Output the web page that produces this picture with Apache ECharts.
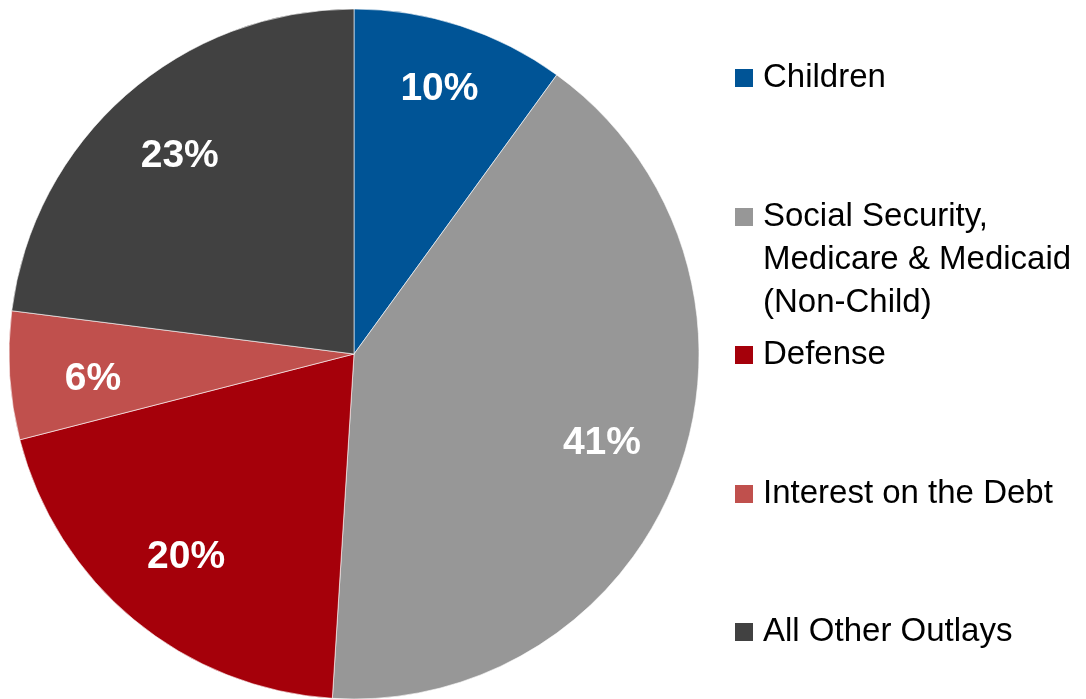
<!DOCTYPE html>
<html>
<head>
<meta charset="utf-8">
<script src="https://cdn.jsdelivr.net/npm/echarts@6/dist/echarts.min.js"></script>
<style>
html,body{margin:0;padding:0;background:#fff;}
#chart{width:1086px;height:699px;}
</style>
</head>
<body>
<div id="chart"></div>
<script>
const categories = ['Children', 'Social Security,\nMedicare & Medicaid\n(Non-Child)', 'Defense', 'Interest on the Debt', 'All Other Outlays'];
const values = [10, 41, 20, 6, 23];
const colors = ['#005496', '#979797', '#A5000A', '#C0504D', '#414141'];
const legendCenters = [78, 217, 355, 494, 632];

const chart = echarts.init(document.getElementById('chart'));
const FONT = '"Liberation Sans", Arial, sans-serif';
const LH = 43;

const data = categories.map((c, i) => ({ name: c, value: values[i], itemStyle: { color: colors[i] } }));

const legends = categories.map((c, i) => {
  const lines = c.split('\n').length;
  const extra = lines - 1;               // blank lines prepended so the first line sits beside the icon
  const total = lines + extra;
  const boxH = LH * total;
  const top = legendCenters[i] - boxH / 2;
  return {
    data: [c],
    left: 733,
    top: top,
    padding: 0,
    itemWidth: 20,
    itemHeight: 20,
    icon: 'rect',
    selectedMode: false,
    formatter: name => '\n'.repeat(extra) + name,
    textStyle: {
      fontFamily: FONT,
      fontSize: 33,
      color: '#000',
      lineHeight: LH,
      padding: [0, 0, 0, 4]
    }
  };
});

const labelNudge = { 0: [4, -14], 3: [2, 9] };

chart.setOption({
  animation: false,
  legend: legends,
  series: [
    {
      type: 'pie',
      center: [354, 354],
      radius: [0, 345],
      startAngle: 90,
      clockwise: true,
      data: data,
      label: { show: false },
      labelLine: { show: false },
      itemStyle: { borderColor: '#ffffff', borderWidth: 0.6 },
      emphasis: { disabled: true }
    },
    {
      type: 'pie',
      center: [354, 354],
      radius: [176, 345],
      startAngle: 90,
      clockwise: true,
      silent: true,
      data: categories.map((c, i) => ({
        name: c,
        value: values[i],
        label: labelNudge[i] ? { offset: labelNudge[i] } : undefined
      })),
      itemStyle: { color: 'rgba(0,0,0,0)' },
      label: {
        show: true,
        position: 'inside',
        formatter: '{c}%',
        color: '#fff',
        fontFamily: FONT,
        fontWeight: 'bold',
        fontSize: 39
      },
      labelLine: { show: false },
      emphasis: { disabled: true },
      legendHoverLink: false
    }
  ]
});
</script>
</body>
</html>
